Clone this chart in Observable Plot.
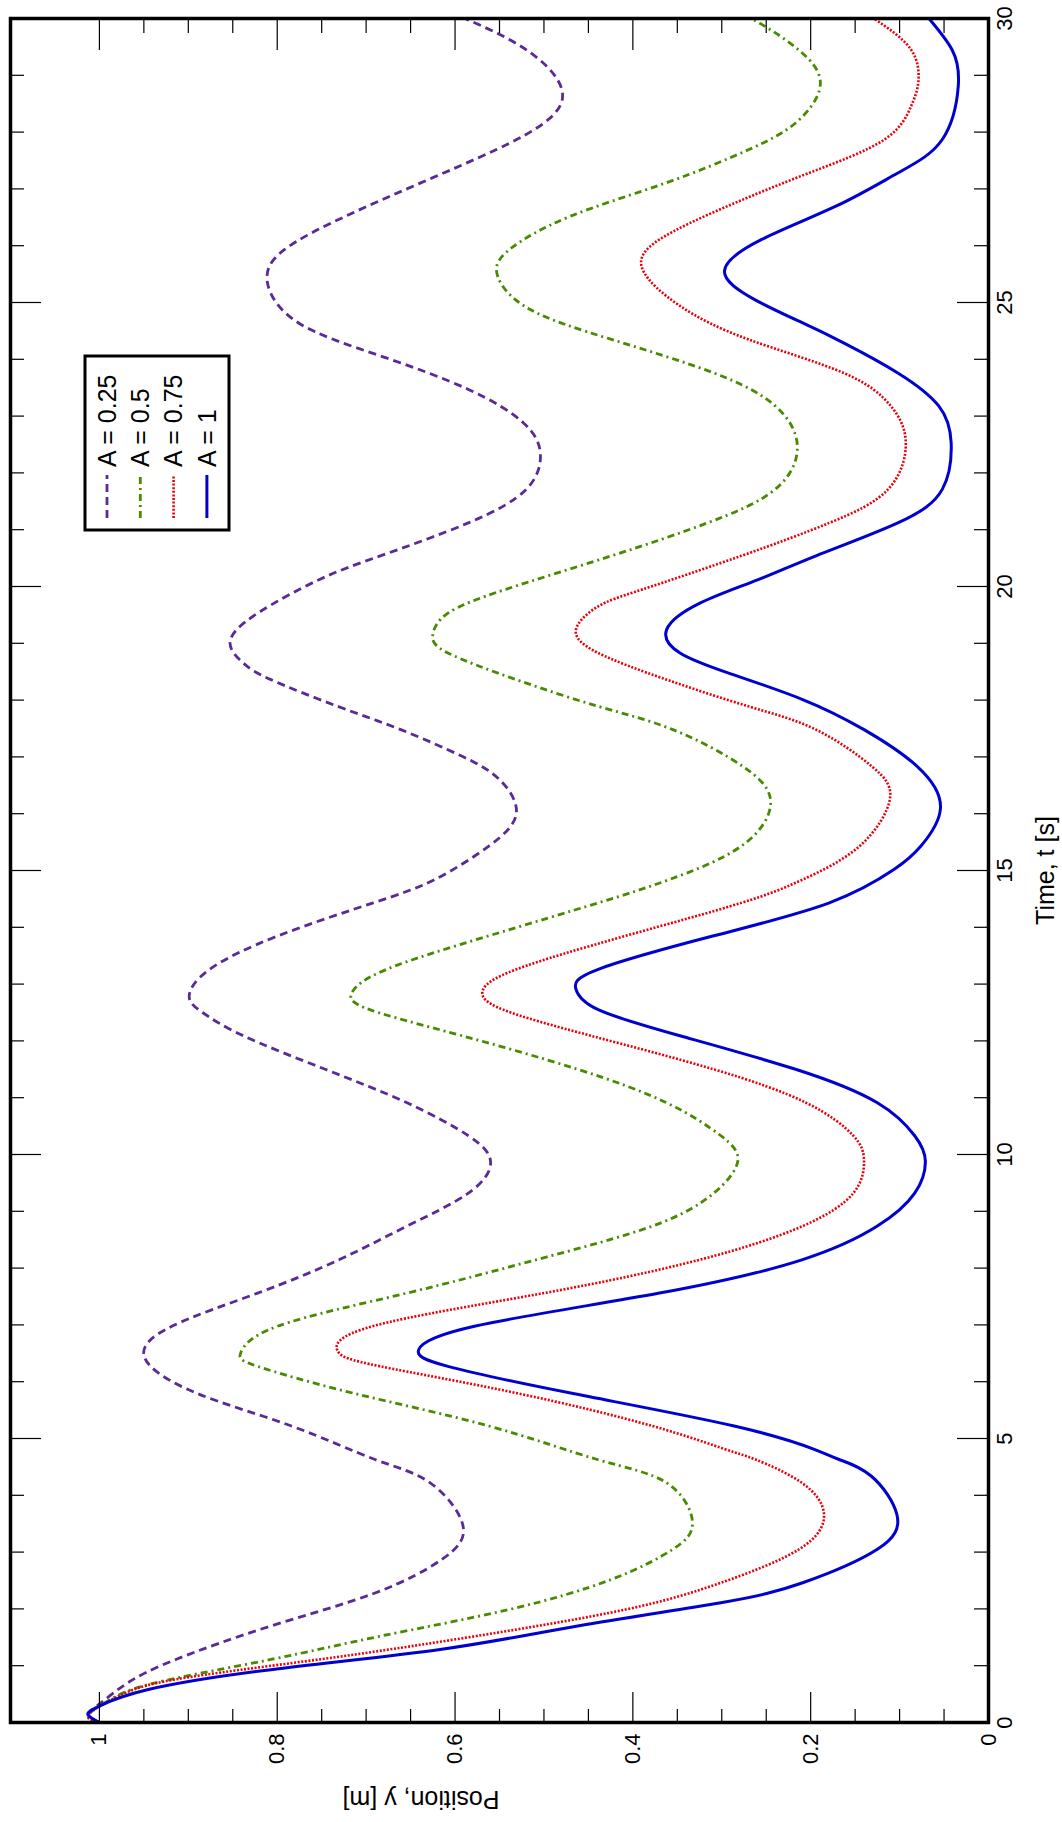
<!DOCTYPE html>
<html>
<head>
<meta charset="utf-8">
<script src="https://cdn.jsdelivr.net/npm/d3@7"></script>
<script src="https://cdn.jsdelivr.net/npm/@observablehq/plot@0.6"></script>
<style>
html, body { margin: 0; padding: 0; background: #fff; width: 1062px; height: 1822px; overflow: hidden; }
#rot { position: absolute; left: 0; top: 0; width: 1822px; height: 1062px; transform-origin: 0 0; transform: translateY(1822px) rotate(-90deg); }
</style>
</head>
<body>
<div id="rot"></div>
<script>
// ---- Data (time t [s], position y [m]) ----
const seriesLabels = ["A = 0.25", "A = 0.5", "A = 0.75", "A = 1"];

const curveA025 = [[0,1.0],[0.14,1.012],[0.35,0.998],[0.70,0.968],[1.11,0.914],[1.70,0.807],[2.28,0.690],[2.87,0.615],[3.46,0.591],[4.22,0.628],[4.63,0.690],[5.22,0.784],[5.80,0.891],[6.42,0.949],[6.98,0.918],[7.56,0.822],[8.15,0.730],[8.74,0.654],[9.32,0.585],[9.86,0.560],[10.33,0.585],[10.91,0.654],[11.50,0.746],[12.09,0.838],[12.50,0.884],[12.79,0.899],[13.26,0.876],[13.85,0.799],[14.43,0.692],[14.84,0.623],[15.43,0.562],[16.01,0.531],[16.60,0.550],[17.01,0.592],[17.48,0.661],[17.89,0.732],[18.36,0.807],[18.65,0.838],[19.03,0.853],[19.53,0.822],[20.12,0.753],[20.54,0.684],[21.12,0.585],[21.71,0.520],[22.33,0.504],[22.88,0.523],[23.47,0.585],[24.06,0.684],[24.64,0.776],[25.35,0.811],[25.93,0.792],[26.52,0.723],[27.11,0.638],[27.69,0.554],[28.16,0.500],[28.63,0.479],[29.16,0.497],[29.63,0.539],[30,0.589]];

const curveA05 = [[0,1.0],[0.14,1.012],[0.41,0.987],[0.70,0.937],[1.11,0.807],[1.52,0.684],[1.99,0.539],[2.52,0.424],[3.05,0.355],[3.54,0.333],[4.22,0.362],[4.63,0.440],[5.22,0.562],[5.80,0.715],[6.27,0.822],[6.51,0.841],[6.98,0.799],[7.56,0.654],[8.15,0.508],[8.74,0.378],[9.32,0.309],[9.88,0.282],[10.33,0.301],[10.91,0.362],[11.50,0.462],[12.09,0.592],[12.55,0.696],[12.85,0.716],[13.26,0.677],[13.85,0.562],[14.43,0.439],[14.84,0.359],[15.43,0.278],[16.19,0.245],[16.83,0.276],[17.48,0.355],[17.89,0.439],[18.36,0.531],[18.83,0.608],[19.15,0.625],[19.53,0.608],[19.95,0.543],[20.54,0.424],[21.12,0.316],[21.71,0.240],[22.47,0.215],[23.18,0.240],[23.76,0.309],[24.35,0.424],[24.88,0.516],[25.46,0.552],[25.93,0.539],[26.52,0.470],[27.11,0.362],[27.69,0.270],[28.16,0.217],[28.75,0.190],[29.28,0.202],[29.75,0.240],[30,0.267]];

const curveA075 = [[0,1.0],[0.14,1.012],[0.46,0.979],[0.76,0.914],[1.11,0.753],[1.52,0.577],[1.99,0.408],[2.46,0.301],[3.05,0.213],[3.66,0.185],[4.22,0.210],[4.63,0.262],[4.81,0.296],[5.22,0.378],[5.80,0.531],[6.27,0.684],[6.54,0.732],[6.98,0.692],[7.56,0.500],[8.15,0.324],[8.74,0.209],[9.32,0.152],[9.88,0.140],[10.33,0.152],[10.91,0.205],[11.50,0.309],[12.09,0.447],[12.55,0.546],[12.88,0.569],[13.26,0.531],[13.85,0.408],[14.43,0.278],[14.84,0.209],[15.43,0.145],[16.25,0.111],[16.83,0.131],[17.48,0.194],[17.89,0.270],[18.36,0.362],[18.83,0.439],[19.24,0.464],[19.65,0.439],[19.95,0.389],[20.54,0.278],[21.12,0.179],[21.71,0.113],[22.53,0.093],[23.18,0.110],[23.76,0.163],[24.35,0.270],[24.94,0.347],[25.58,0.389],[26.11,0.370],[26.70,0.293],[27.28,0.202],[27.87,0.117],[28.46,0.087],[28.87,0.079],[29.45,0.087],[30,0.129]];

const curveA1 = [[0,1.0],[0.14,1.013],[0.29,1.0],[0.58,0.945],[0.93,0.807],[1.29,0.615],[1.70,0.462],[2.11,0.301],[2.46,0.209],[3.05,0.125],[3.66,0.103],[4.34,0.132],[4.63,0.168],[4.81,0.196],[5.22,0.286],[5.80,0.470],[6.27,0.608],[6.56,0.641],[6.98,0.577],[7.56,0.370],[8.15,0.209],[8.74,0.125],[9.32,0.083],[9.88,0.071],[10.33,0.083],[10.91,0.125],[11.50,0.217],[12.09,0.347],[12.55,0.439],[12.91,0.464],[13.26,0.439],[13.85,0.309],[14.43,0.179],[15.02,0.106],[15.43,0.076],[16.10,0.054],[16.83,0.080],[17.48,0.140],[18.01,0.209],[18.48,0.293],[18.83,0.347],[19.24,0.362],[19.71,0.324],[20.12,0.259],[20.54,0.194],[21.12,0.102],[21.71,0.052],[22.53,0.042],[23.18,0.056],[23.76,0.102],[24.29,0.163],[24.64,0.209],[25.05,0.263],[25.55,0.297],[26.11,0.255],[26.70,0.171],[27.28,0.102],[27.87,0.052],[28.81,0.034],[29.45,0.041],[30,0.067]];

const timeTicks = [0, 5, 10, 15, 20, 25, 30];
const timeMinorTicks = [1,2,3,4,6,7,8,9,11,12,13,14,16,17,18,19,21,22,23,24,26,27,28,29];
const positionTicks = [0, 0.2, 0.4, 0.6, 0.8, 1];
const positionMinorTicks = [0.05,0.1,0.15,0.25,0.3,0.35,0.45,0.5,0.55,0.65,0.7,0.75,0.85,0.9,0.95];

// ---- Styles ----
const seriesColors = ["#5a2a96", "#4a8a00", "#e8000b", "#0000d0"];
const seriesDash = ["8,5", "7,4,2,4", "2,1.6", null];
const seriesWidth = [2.8, 2.8, 2.6, 3];

const seriesData = [curveA025, curveA05, curveA075, curveA1];
const rows = seriesData.flatMap((pts, i) => pts.map(([t, v]) => ({t, v, series: seriesLabels[i]})));

// Chart drawn in gnuplot's native orientation, then the whole figure is rotated by -90°.
const W = 1822, H = 1062, mL = 99, mR = 19, mT = 10, mB = 74;
const innerW = W - mL - mR, innerH = H - mT - mB;
const MAJ = 31, MIN = 14;
const tickStyle = {stroke: "#000", strokeWidth: 1.2};
const FONT = "'Liberation Sans', Arial, Helvetica, sans-serif";

const chart = Plot.plot({
  width: W, height: H,
  marginLeft: mL, marginRight: mR, marginTop: mT, marginBottom: mB,
  style: {fontFamily: FONT, fontSize: "22px", background: "white", color: "#000", overflow: "visible"},
  x: {domain: [0, 30], label: null},
  y: {domain: [0, 1.1], label: null},
  marks: [
    ...seriesLabels.map((s, i) => Plot.line(rows.filter(r => r.series === s), {
      x: "t", y: "v", stroke: seriesColors[i], strokeWidth: seriesWidth[i],
      strokeDasharray: seriesDash[i], strokeLinecap: "butt", curve: "natural"
    })),
    // inward ticks, mirrored on all sides
    Plot.ruleX(timeTicks, {x: d => d, insetTop: innerH - MAJ, ...tickStyle}),
    Plot.ruleX(timeTicks, {x: d => d, insetBottom: innerH - MAJ, ...tickStyle}),
    Plot.ruleX(timeMinorTicks, {x: d => d, insetTop: innerH - MIN, ...tickStyle}),
    Plot.ruleX(timeMinorTicks, {x: d => d, insetBottom: innerH - MIN, ...tickStyle}),
    Plot.ruleY(positionTicks, {y: d => d, insetRight: innerW - MAJ, ...tickStyle}),
    Plot.ruleY(positionTicks, {y: d => d, insetLeft: innerW - MAJ, ...tickStyle}),
    Plot.ruleY(positionMinorTicks, {y: d => d, insetRight: innerW - MIN, ...tickStyle}),
    Plot.ruleY(positionMinorTicks, {y: d => d, insetLeft: innerW - MIN, ...tickStyle}),
    Plot.frame({stroke: "#000", strokeWidth: 3.5}),
    Plot.axisX(timeTicks, {anchor: "bottom", tickSize: 0, tickPadding: 8, fontSize: 22, label: null, tickFormat: d => String(d)}),
    Plot.axisY(positionTicks, {anchor: "left", tickSize: 0, tickPadding: 11, fontSize: 22, label: null, tickFormat: d => String(d)}),
    Plot.text(["Time, t [s]"], {text: d => d, frameAnchor: "bottom", dy: 57, fontSize: 25, lineAnchor: "middle"}),
    Plot.text(["Position, y [m]"], {text: d => d, frameAnchor: "left", dx: -76, rotate: -90, fontSize: 25, lineAnchor: "middle"})
  ]
});

// Legend box (top-right of the unrotated plot area)
const svg = d3.select(chart);
const boxW = 174, boxH = 144;
const boxX = W - mR - 337 - boxW, boxY = mT + 75;
const lg = svg.append("g").attr("class", "legend").attr("text-anchor", "start");
lg.append("rect").attr("x", boxX).attr("y", boxY).attr("width", boxW).attr("height", boxH)
  .attr("fill", "white").attr("stroke", "#000").attr("stroke-width", 3);
seriesLabels.forEach((s, i) => {
  const cy = boxY + 22 + i * 33.3;
  lg.append("line").attr("x1", boxX + 12).attr("x2", boxX + 55).attr("y1", cy).attr("y2", cy)
    .attr("stroke", seriesColors[i]).attr("stroke-width", seriesWidth[i])
    .attr("stroke-dasharray", seriesDash[i]);
  lg.append("text").attr("x", boxX + 63).attr("y", cy).attr("dy", "0.35em")
    .attr("text-anchor", "start")
    .style("font-size", "25px").style("font-family", FONT).attr("fill", "#000").text(s);
});

document.getElementById("rot").appendChild(chart);
</script>
</body>
</html>
